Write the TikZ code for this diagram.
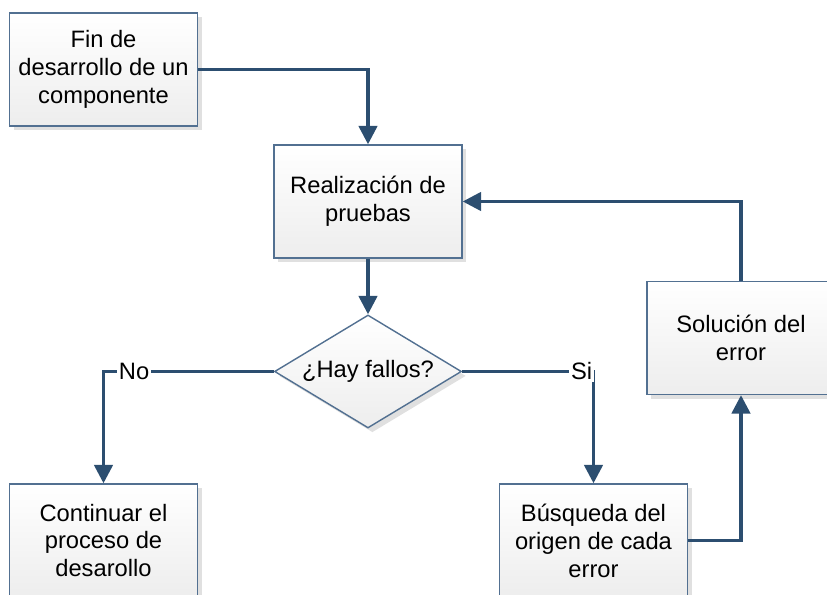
\documentclass[tikz,border=0pt]{standalone}
\usepackage{fontspec}
\setmainfont{Liberation Sans}
\usetikzlibrary{arrows.meta,shapes.geometric,shadows}
\definecolor{azulflecha}{RGB}{44,78,112}
\definecolor{azulborde}{RGB}{82,112,145}

\begin{document}
\begin{tikzpicture}[
    caja/.style={rectangle, draw=azulborde, line width=0.8pt,
      top color=white, bottom color=black!7,
      drop shadow={shadow xshift=2.5pt, shadow yshift=-2.5pt, fill=black!12, opacity=1},
      minimum width=3.76cm, minimum height=2.26cm, align=center,
      font=\fontsize{13.5}{15.9}\selectfont},
    rombo/.style={caja, diamond, aspect=1.65, inner sep=0pt, minimum width=3.74cm, minimum height=2.26cm},
    flecha/.style={draw=azulflecha, line width=1.9pt, -{Triangle[length=10.5pt,width=10.5pt]}},
    etiqueta/.style={fill=white, inner sep=1pt, font=\fontsize{13.5}{15.9}\selectfont}
  ]
  \useasboundingbox (0,0) rectangle (16.54,11.9);
  \node[caja] (fin) at (2.07,10.51) {Fin de\\desarrollo de un\\componente};
  \node[caja] (pruebas) at (7.36,7.87) {Realización de\\pruebas};
  \node[rombo] (fallos) at (7.36,4.47) {¿Hay fallos?};
  \node[caja] (continuar) at (2.07,1.09) {Continuar el\\proceso de\\desarollo};
  \node[caja] (busqueda) at (11.87,1.09) {Búsqueda del\\origen de cada\\error};
  \node[caja] (solucion) at (14.82,5.14) {Solución del\\error};

  \draw[flecha] (fin.east) -| (pruebas.north);
  \draw[flecha] (pruebas.south) -- (fallos.north);
  \draw[flecha] (fallos.west) -| node[etiqueta, pos=0.41] {No} (continuar.north);
  \draw[flecha] (fallos.east) -| node[etiqueta, pos=0.455] {Si} (busqueda.north);
  % vuelta al principio
  \draw[flecha] (busqueda.east) -| (solucion.south);
  \draw[flecha] (solucion.north) |- (pruebas.east);
\end{tikzpicture}
\end{document}
